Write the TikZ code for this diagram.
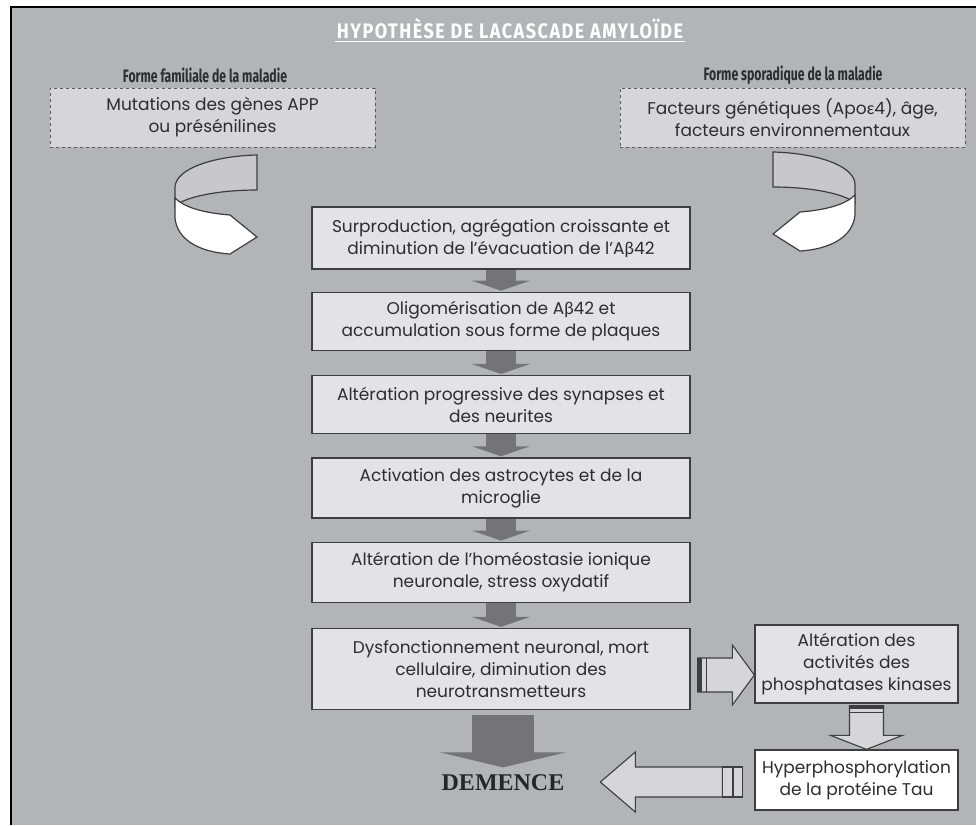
\documentclass[tikz,border=0pt]{standalone}
\usepackage{fontspec}
\setmainfont{Poppins}
\newfontfamily\grfont{Lato}
\newfontfamily\headfont[FakeStretch=0.68]{Fira Sans}
\newfontfamily\titlefont[FakeStretch=0.86, LetterSpace=7]{Fira Sans}
\newfontfamily\demfont{Liberation Serif}
\usetikzlibrary{positioning,calc,arrows.meta}

\definecolor{pagegray}{RGB}{178,180,183}
\definecolor{boxfill}{RGB}{227,227,231}
\definecolor{dashfill}{RGB}{214,214,217}
\definecolor{boxline}{RGB}{62,62,64}
\definecolor{darkarrow}{RGB}{116,116,118}
\definecolor{txt}{RGB}{45,45,48}
\definecolor{backfill}{RGB}{200,200,203}

\newcommand{\gr}[1]{{\grfont #1}}

% curled arrow: tail up at the right, head back to the right
\newcommand{\curl}{%
  \filldraw[draw=boxline, line width=1.2pt, fill=backfill] (257,155) .. controls (215,156) and (176,168) .. (175,187) -- (175,206) .. controls (185,197) and (218,190) .. (257,190) -- cycle;
  \filldraw[draw=boxline, line width=1.2pt, fill=white] (175,198) .. controls (185,208) and (205,213) .. (230,215) -- (257,237) -- (230,254) .. controls (198,252) and (177,239) .. (175,218) -- cycle;
}

\begin{document}
\begin{tikzpicture}[x=1pt, y=-1pt,
    every node/.style={text=txt},
    body/.style={font=\fontsize{17}{22}\selectfont},
    stage/.style={body, draw=boxline, line width=1.3pt, fill=boxfill, minimum width=378pt, align=center, inner sep=1pt},
    side/.style={stage, minimum width=203pt},
    cause/.style={body, draw=gray!70!black, dashed, line width=1pt, fill=dashfill, align=center, minimum height=59pt},
    head/.style={font=\headfont\bfseries\fontsize{18}{20}\selectfont},
    flow/.style={darkarrow, line width=30pt, shorten >=1pt, -{Triangle[width=58pt,length=10pt]}},
    hollow/.style={draw=boxline, line width=1.1pt, fill=dashfill}]
  \useasboundingbox (0,0) rectangle (976,825);
  \fill[white] (0,0) rectangle (976,825);
  \fill[pagegray] (11,7) rectangle (976,825);
  \draw[black, line width=2.5pt] (11,825) -- (11,7) -- (976,7);

  % title and the two forms
  \node[font=\titlefont\bfseries\fontsize{21}{26}\selectfont, text=white, inner sep=2pt] (title) at (510,29) {HYPOTHÈSE DE LACASCADE AMYLOÏDE};
  \draw[white, line width=1pt] (title.south west) -- (title.south east);
  \node[head] (famL) at (205,75) {Forme familiale de la maladie};
  \node[head] (famR) at (793,75) {Forme sporadique de la maladie};
  \node[cause, minimum width=325pt] (causeL) at (212.5,117.5) {Mutations des gènes APP\\ou présénilines};
  \node[cause, minimum width=345pt] (causeR) at (792.5,117.5) {Facteurs génétiques (Apo\gr{ε}4), âge,\\facteurs environnementaux};

  % curled arrows
  \curl
  \begin{scope}[xshift=1030pt, yshift=3pt, xscale=-1]
    \curl
  \end{scope}

  % cascade
  \node[stage, minimum height=62pt] (b1) at (501,238) {Surproduction, agrégation croissante et\\diminution de l’évacuation de l’A\gr{β}42};
  \node[stage, minimum height=58pt, below=22pt of b1] (b2) {Oligomérisation de A\gr{β}42 et\\accumulation sous forme de plaques};
  \node[stage, minimum height=58pt, below=24pt of b2] (b3) {Altération progressive des synapses et\\des neurites};
  \node[stage, minimum height=60pt, below=23pt of b3] (b4) {Activation des astrocytes et de la\\microglie};
  \node[stage, minimum height=60pt, below=23pt of b4] (b5) {Altération de l’homéostasie ionique\\neuronale, stress oxydatif};
  \node[stage, minimum height=81pt, below=25pt of b5] (b6) {Dysfonctionnement neuronal, mort\\cellulaire, diminution des\\neurotransmetteurs};
  \foreach \a/\b in {b1/b2, b2/b3, b3/b4, b4/b5, b5/b6}
    \draw[flow] (\a) -- (\b);

  \node[side, minimum height=78pt] (bA) at (856.5,664) {Altération des\\activités des\\phosphatases kinases};
  \node[side, minimum height=60pt, fill=white] (bB) at (856.5,780) {Hyperphosphorylation\\de la protéine Tau};

  \node[font=\demfont\bfseries\fontsize{24}{26}\selectfont, text=black!85] (dem) at (503,783) {DEMENCE};
  \draw[darkarrow, line width=62pt, shorten <=5pt, shorten >=4pt, -{Triangle[width=125pt,length=15pt]}] (b6.south -| dem) -- (dem.north);

  % hollow arrows
  \coordinate (r0) at ($(b6.east)+(7,6)$);
  \coordinate (r1) at (bA.west |- r0);
  \filldraw[hollow] ($(r0)+(0,-17)$) -- ($(r1)+(-22,-17)$) -- ($(r1)+(-22,-30)$) -- (r1) -- ($(r1)+(-22,30)$) -- ($(r1)+(-22,17)$) -- ($(r0)+(0,17)$) -- cycle;
  \fill[boxline] ($(r0)+(0,-17)$) rectangle ($(r0)+(4,17)$);
  \draw[boxline, line width=1pt] ($(r0)+(9,-17)$) -- ($(r0)+(9,17)$);

  \coordinate (d0) at ($(bA.south)+(10,2)$);
  \coordinate (d1) at (d0 |- bB.north);
  \filldraw[hollow] ($(d0)+(-17,0)$) -- ($(d1)+(-17,-14)$) -- ($(d1)+(-36,-14)$) -- (d1) -- ($(d1)+(36,-14)$) -- ($(d1)+(17,-14)$) -- ($(d0)+(17,0)$) -- cycle;
  \fill[boxline] ($(d0)+(-17,0)$) rectangle ($(d0)+(17,3)$);
  \draw[boxline, line width=1pt] ($(d0)+(-17,7)$) -- ($(d0)+(17,7)$);

  \coordinate (l0) at ($(bB.west)+(-12,2)$);
  \coordinate (l1) at ($(l0)+(-142,0)$);
  \filldraw[hollow] ($(l0)+(-20,-15)$) -- ($(l1)+(35,-15)$) -- ($(l1)+(35,-30)$) -- (l1) -- ($(l1)+(35,30)$) -- ($(l1)+(35,15)$) -- ($(l0)+(-20,15)$) -- cycle;
  \filldraw[hollow] ($(l0)+(-20,-15)$) rectangle ($(l0)+(-10,15)$);
  \filldraw[hollow] ($(l0)+(-9,-15)$) rectangle ($(l0)+(0,15)$);
\end{tikzpicture}
\end{document}
